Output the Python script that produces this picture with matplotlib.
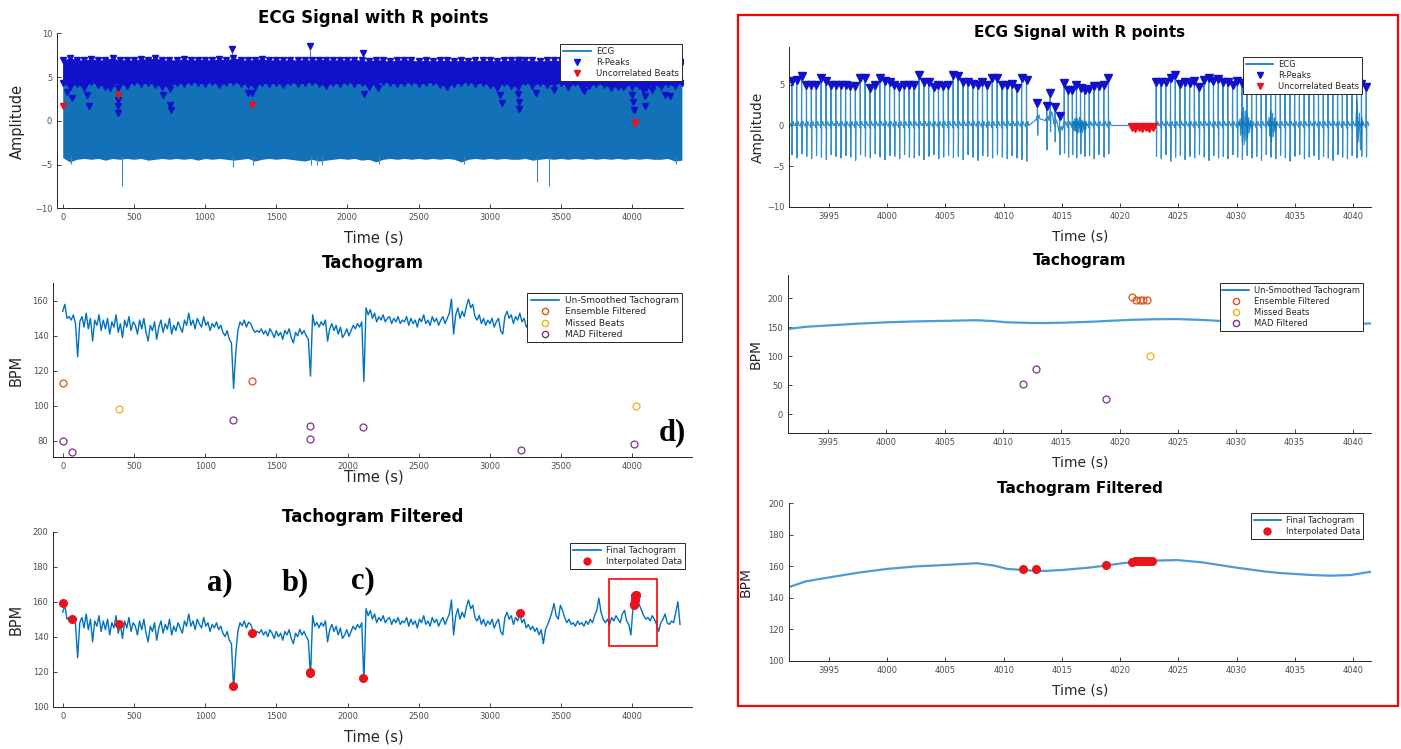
import numpy as np
import matplotlib
matplotlib.use('Agg')
import matplotlib.pyplot as plt
from matplotlib.lines import Line2D
from matplotlib.patches import Rectangle
from matplotlib.ticker import MultipleLocator

W, H = 1401, 749

# MATLAB default colour order
C_LINE = '#0072BD'
C_ORANGE = '#D95319'
C_YELLOW = '#EDB120'
C_PURPLE = '#7E2F8E'
C_PEAK = '#1111cc'
C_RED = '#e8141b'
C_AX = '#262626'
C_TICK = '#4d4d4d'

# ---------------- whole recording (0 - 4350 s) ----------------
# ECG envelope, sampled every 50 s
env_t = np.arange(0, 4351, 50)
ecg_lo = [-4.2, -4.7, -4.4, -4.3, -4.4, -4.3, -4.5, -4.3, -4.4, -4.3,
          -4.4, -4.3, -4.5, -4.4, -4.3, -4.4, -4.3, -4.4, -4.3, -4.5,
          -4.3, -4.4, -4.3, -4.4, -4.5, -4.4, -4.3, -4.6, -4.4, -4.3,
          -4.4, -4.3, -4.4, -4.5, -4.6, -4.4, -4.6, -4.5, -4.4, -4.3,
          -4.4, -4.3, -4.5, -4.4, -4.7, -4.4, -4.3, -4.4, -4.3, -4.4,
          -4.3, -4.4, -4.3, -4.4, -4.3, -4.4, -4.7, -4.4, -4.3, -4.4,
          -4.3, -4.4, -4.3, -4.4, -4.4, -4.3, -4.5, -4.4, -4.3, -4.4,
          -4.3, -4.4, -4.3, -4.4, -4.3, -4.4, -4.3, -4.4, -4.3, -4.4,
          -4.3, -4.4, -4.3, -4.4, -4.4, -4.3, -4.6, -4.5]
rpk_hi = [6.9, 7.2, 7.0, 6.9, 7.1, 6.9, 7.0, 7.2, 6.9, 7.0,
          6.9, 7.1, 7.0, 7.2, 6.9, 7.0, 6.9, 7.1, 6.9, 7.0,
          7.0, 6.9, 7.1, 6.9, 7.2, 7.0, 6.9, 7.0, 7.1, 6.9,
          7.0, 6.9, 7.0, 6.9, 7.0, 6.9, 7.0, 7.0, 6.9, 7.0,
          6.9, 7.0, 6.9, 6.8, 7.0, 6.9, 6.8, 6.9, 7.0, 6.9,
          6.8, 6.9, 6.8, 6.9, 6.9, 6.8, 6.9, 6.8, 6.9, 6.9,
          6.9, 6.8, 6.9, 6.9, 7.0, 6.9, 6.9, 6.8, 6.9, 6.9,
          6.9, 6.8, 6.9, 7.0, 6.9, 6.8, 6.9, 6.9, 6.8, 6.9,
          6.9, 6.8, 6.9, 6.9, 6.8, 6.9, 6.8, 6.7]
rpk_lo = [4.3, 3.9, 4.2, 3.8, 4.4, 4.1, 3.9, 4.3, 4.2, 4.0,
          4.4, 4.2, 4.3, 4.1, 3.9, 4.0, 4.3, 4.2, 4.4, 4.3,
          4.2, 4.4, 4.1, 4.3, 4.4, 4.2, 4.1, 3.9, 4.3, 4.2,
          4.3, 4.1, 4.4, 4.2, 4.3, 4.4, 4.2, 4.0, 4.3, 4.2,
          4.4, 4.2, 4.3, 3.9, 4.2, 4.4, 4.3, 4.2, 4.3, 4.4,
          4.2, 4.3, 4.4, 4.1, 3.9, 4.2, 4.3, 4.4, 4.2, 4.3,
          4.1, 3.8, 4.3, 4.0, 3.9, 4.4, 4.0, 4.3, 4.1, 4.2,
          4.3, 3.9, 4.3, 3.8, 4.0, 4.2, 4.1, 3.8, 3.9, 4.1,
          3.9, 4.0, 3.8, 4.1, 3.9, 4.2, 4.0, 4.3]

# single deep S waves and tall R waves sticking out of the envelope
spike_t = [60, 417, 1200, 1335, 1745, 1790, 1820, 2225, 2820, 3335, 3419, 4310]
spike_lo = [-4.9, -7.5, -5.3, -5.0, -5.1, -5.1, -5.1, -4.9, -4.9, -7.0, -7.5, -4.9]
tall_t = [1186, 1735, 2108]
tall_v = [7.9, 8.2, 7.5]

# R-peaks lying outside the dense band
out_t = [31, 63, 172, 182, 330, 392, 392, 392, 392, 706, 753, 753, 762,
         1186, 1302, 1333, 1735, 2108, 2117, 2212, 3074, 3084, 3200, 3206,
         3209, 3209, 3325, 3451, 3664, 3937, 4000, 4009, 4015, 4078, 4094,
         4094, 4141, 4235, 4266, 4345]
out_v = [3.3, 2.6, 2.95, 1.7, 3.8, 3.8, 2.4, 1.7, 0.9, 2.95, 3.6, 1.8, 1.2,
         8.2, 3.2, 3.2, 8.5, 7.8, 3.1, 3.7, 2.95, 2.0, 3.1, 7.0,
         2.2, 1.4, 3.2, 3.5, 3.4, 3.9, 2.95, 2.2, 1.2, 3.5, 2.8,
         1.7, 3.5, 2.95, 2.8, 6.6]

# uncorrelated beats
unc_t = [0, 392, 1327, 4021.0, 4021.3, 4021.6, 4021.9, 4022.2, 4022.5, 4022.8]
unc_v = [1.7, 3.0, 1.8, -0.2, -0.25, -0.2, -0.25, -0.2, -0.25, -0.2]

# tachogram, one value every 15 s
tacho_t = np.arange(0, 4350, 15)
tacho_bpm = [
    154, 158, 150, 151, 149, 152, 147, 128, 148, 151, 145, 153, 144, 150, 137, 149, 146, 152, 143, 149,
    144, 150, 141, 148, 145, 152, 142, 147, 139, 149, 145, 151, 143, 148, 146, 141, 149, 144, 150, 142,
    137, 146, 143, 148, 138, 145, 149, 142, 147, 144, 150, 141, 146, 143, 148, 145, 142, 149, 146, 153,
    146, 149, 144, 150, 147, 145, 151, 146, 148, 143, 147, 145, 148, 144, 146, 142, 140, 143, 138, 136,
    110, 130, 143, 148, 146, 149, 145, 148, 147, 144, 142, 143, 142, 144, 141, 143, 140, 144, 142, 139,
    143, 140, 142, 138, 143, 141, 144, 139, 136, 142, 140, 144, 141, 143, 140, 138, 117, 152, 146, 148,
    145, 148, 146, 149, 137, 144, 147, 143, 146, 141, 145, 139, 141, 144, 140, 143, 146, 144, 147, 145,
    148, 114, 156, 152, 155, 150, 153, 148, 151, 149, 152, 148, 150, 151, 147, 150, 148, 151, 147, 149,
    148, 151, 146, 150, 147, 149, 145, 150, 148, 152, 147, 149, 146, 151, 148, 150, 146, 149, 151, 147,
    150, 153, 161, 141, 152, 156, 150, 154, 151, 157, 161, 156, 158, 151, 149, 152, 147, 150, 146, 149,
    147, 150, 145, 148, 150, 143, 141, 151, 154, 150, 152, 147, 151, 149, 153, 148, 150, 145, 147, 144,
    146, 143, 145, 141, 144, 136, 144, 147, 150, 154, 159, 152, 150, 158, 155, 151, 148, 150, 147, 148,
    146, 149, 147, 148, 146, 149, 147, 150, 148, 152, 155, 162, 154, 150, 148, 150, 147, 151, 149, 152,
    150, 148, 153, 155, 149, 147, 141, 157, 161, 162, 158, 155, 152, 150, 151, 149, 152, 150, 147, 143,
    148, 150, 153, 148, 147, 149, 148, 154, 160, 147]

# flagged beats
ens_t = [5, 1331, 4021.05, 4021.4, 4021.7, 4022.0, 4022.3]
ens_bpm = [112.8, 114.1, 202, 197.5, 197, 197, 197]
miss_t = [392, 4022.6]
miss_bpm = [98.5, 100]
mad_t = [5, 68, 1195, 1734, 1734, 2112, 3220, 4011.7, 4012.8, 4018.8]
mad_bpm = [80, 73.7, 91.8, 88.8, 81.1, 88, 75, 52, 78, 26.4]
interp_t = [3, 63, 392, 1197, 1331, 1734, 1740, 2112, 3213, 4011.7, 4012.8,
            4018.8, 4021.0, 4021.25, 4021.5, 4021.75, 4022.0, 4022.25, 4022.5, 4022.7]
interp_bpm = [159.5, 150, 147, 112, 142, 119, 120, 116.4, 153.4, 158.6, 158.1,
              161.1, 163.0, 163.2, 163.3, 163.4, 163.5, 163.5, 163.6, 163.6]

# ---------------- detail window (3991.5 - 4041.5 s) ----------------
# regular beats before the artefact
a_t = [3991.80, 3992.22, 3992.64, 3993.06, 3993.48, 3993.90, 3994.32, 3994.74, 3995.16, 3995.58,
       3996.00, 3996.42, 3996.84, 3997.26, 3997.68, 3998.10, 3998.52, 3998.94, 3999.36, 3999.78,
       4000.20, 4000.62, 4001.04, 4001.46, 4001.88, 4002.30, 4002.72, 4003.14, 4003.56, 4003.98,
       4004.40, 4004.82, 4005.24, 4005.66, 4006.08, 4006.50, 4006.92, 4007.34, 4007.76, 4008.18,
       4008.60, 4009.02, 4009.44, 4009.86, 4010.28, 4010.70, 4011.12, 4011.54, 4011.96]
a_r = [5.5, 5.6, 6.1, 5.0, 5.0, 5.0, 5.9, 5.5, 5.0, 5.0,
       5.0, 5.0, 4.9, 4.9, 5.8, 5.9, 4.6, 5.0, 5.8, 5.5,
       5.3, 5.0, 4.7, 5.0, 5.0, 5.0, 6.2, 5.3, 5.3, 4.7,
       5.0, 4.9, 5.0, 6.2, 6.1, 5.4, 5.3, 5.1, 5.0, 5.3,
       5.0, 5.9, 5.8, 5.0, 5.0, 5.1, 4.6, 5.9, 5.6]
a_s = [-3.6, -4.0, -3.5, -3.8, -4.1, -3.7, -3.9, -4.2, -3.6, -3.8,
       -4.0, -3.7, -3.9, -4.3, -3.6, -3.8, -4.0, -3.5, -3.9, -4.2,
       -3.7, -3.8, -4.1, -3.6, -3.9, -4.0, -3.7, -4.2, -3.8, -3.6,
       -4.1, -3.9, -3.7, -4.0, -3.8, -4.2, -3.6, -3.9, -4.3, -3.7,
       -3.8, -4.0, -3.6, -3.9, -4.1, -3.7, -4.0, -4.2, -4.4]
# irregular beats riding on a wandering baseline
i_t = [4012.9, 4013.7, 4014.0, 4014.4, 4014.8]
i_r = [2.8, 2.4, 4.0, 2.3, 1.2]
i_s = [-1.2, -3.0, -0.8, -2.0, -3.6]
i_base = [0.8, 0.6, 1.2, 0.2, -0.6]
# beats up to the dropout
b_t = [4015.2, 4015.55, 4015.9, 4016.25, 4016.6, 4016.95, 4017.35, 4017.75, 4018.15, 4018.6, 4019.0]
b_r = [5.2, 4.4, 4.4, 5.0, 4.6, 4.4, 4.5, 4.9, 4.8, 5.0, 5.9]
b_s = [-3.4, -3.9, -3.6, -4.0, -3.5, -3.8, -3.7, -4.1, -3.6, -3.9, -3.5]
# beats after the dropout
c_t = [4023.10, 4023.51, 4023.92, 4024.33, 4024.74, 4025.15, 4025.56, 4025.97, 4026.38, 4026.79,
       4027.20, 4027.61, 4028.02, 4028.43, 4028.84, 4029.25, 4029.66, 4030.07, 4030.48, 4030.89,
       4031.30, 4031.71, 4032.12, 4032.53, 4032.94, 4033.35, 4033.76, 4034.17, 4034.58, 4034.99,
       4035.40, 4035.81, 4036.22, 4036.63, 4037.04, 4037.45, 4037.86, 4038.27, 4038.68, 4039.09,
       4039.50, 4039.91, 4040.32, 4040.73, 4041.14]
c_r = [5.3, 5.3, 5.4, 5.9, 6.2, 5.1, 5.4, 5.2, 5.5, 4.7,
       5.6, 5.8, 5.5, 5.7, 5.3, 5.4, 5.0, 5.5, 5.2, 5.6,
       5.0, 5.3, 5.5, 5.1, 5.4, 5.0, 5.6, 5.2, 5.3, 5.5,
       5.0, 5.4, 5.2, 5.6, 5.1, 5.3, 5.5, 5.0, 5.4, 5.2,
       5.3, 5.0, 4.9, 5.1, 4.7]
c_s = [-3.8, -4.1, -3.6, -4.4, -3.9, -3.7, -4.2, -3.8, -4.0, -3.6,
       -3.9, -4.3, -3.7, -4.0, -3.8, -4.1, -3.6, -3.9, -4.2, -3.7,
       -4.0, -3.8, -4.3, -3.6, -3.9, -4.1, -3.7, -4.0, -4.4, -3.8,
       -3.6, -4.1, -3.9, -3.7, -4.2, -3.8, -4.0, -4.3, -3.6, -3.9,
       -4.1, -3.7, -4.0, -3.8, -3.9]

# muscle-noise bursts
noise = [
    ([4015.95, 4016.0, 4016.05, 4016.1, 4016.15, 4016.2, 4016.3, 4016.35, 4016.45, 4016.5,
      4016.6, 4016.65, 4016.75, 4016.8, 4016.9, 4016.95, 4017.05, 4017.1, 4017.2],
     [0, 0.5, -0.6, 0.8, -0.7, 0.9, -1.0, 0.8, -0.9, 1.0, -0.8, 0.7, -0.9, 0.6, -0.7, 0.5, -0.5, 0.3, 0]),
    ([4030.2, 4030.3, 4030.35, 4030.45, 4030.5, 4030.6, 4030.65, 4030.75, 4030.8, 4030.9,
      4030.95, 4031.05, 4031.1, 4031.2, 4031.3, 4031.4],
     [0, 0.8, -1.2, 1.6, -2.0, 2.2, -2.4, 1.8, -1.9, 1.4, -1.5, 1.0, -0.9, 0.6, -0.4, 0]),
    ([4032.7, 4032.8, 4032.85, 4032.95, 4033.0, 4033.1, 4033.15, 4033.25, 4033.3, 4033.4, 4033.5],
     [0, 1.0, -1.3, 1.8, -2.0, 1.5, -1.4, 0.9, -0.8, 0.4, 0]),
    ([4040.25, 4040.35, 4040.45, 4040.55, 4040.65, 4040.75, 4040.85],
     [0, 3.2, -2.0, 1.5, -3.0, 1.0, 0]),
]

# smoothed heart rate in the window
win_t = [3991.5, 3993, 3995, 3997.5, 4000, 4002.5, 4005, 4007.7, 4009.2, 4010.3, 4012.4, 4013.5,
         4015, 4017.6, 4019.7, 4021, 4022.7, 4024.9, 4027, 4030, 4032.5, 4033.7, 4035, 4036.5,
         4038, 4039.8, 4041.6]
win_bpm = [146.7, 150.5, 153, 156, 158.4, 160, 160.9, 162, 160.5, 158.4, 157.3, 157.1,
           157.7, 159.4, 161.5, 162.7, 163.6, 164, 162.6, 159.2, 156.7, 155.8, 155.2, 154.5,
           154.1, 154.5, 156.7]


fig = plt.figure(figsize=(W / 100, H / 100), dpi=100)


def axes_px(l, t, r, b):
    return fig.add_axes([l / W, 1 - b / H, (r - l) / W, (b - t) / H])


def text_px(x, y, s, **kw):
    fig.text(x / W, 1 - y / H, s, ha='center', va='center', **kw)


def style(ax, xlim, ylim, xstep, ystep):
    ax.set_xlim(*xlim)
    ax.set_ylim(*ylim)
    ax.xaxis.set_major_locator(MultipleLocator(xstep))
    ax.yaxis.set_major_locator(MultipleLocator(ystep))
    ax.xaxis.get_major_formatter().set_useOffset(False)
    for s in ('top', 'right'):
        ax.spines[s].set_visible(False)
    for s in ('left', 'bottom'):
        ax.spines[s].set_color(C_AX)
        ax.spines[s].set_linewidth(0.7)
    ax.tick_params(direction='in', length=3, width=0.6, color=C_AX,
                   labelsize=6, labelcolor=C_TICK, pad=3.5)


def legend_px(ax, handles, right, top, size=6.2):
    leg = ax.legend(handles=handles, loc='upper right',
                    bbox_to_anchor=(right / W, 1 - top / H),
                    bbox_transform=fig.transFigure, fontsize=size,
                    fancybox=False, framealpha=1, edgecolor=C_AX,
                    borderpad=0.35, labelspacing=0.25, handlelength=3.2,
                    handletextpad=0.6, borderaxespad=0)
    leg.get_frame().set_linewidth(0.7)
    for t in leg.get_texts():
        t.set_color(C_AX)
    leg.set_zorder(10)


def ecg_trace(times, r, s, base=None):
    """Stack a simple P-QRS-T shape on every beat."""
    xs, ys = [], []
    if base is None:
        base = [0.0] * len(times)
    for t, rv, sv, b in zip(times, r, s, base):
        xs += [t - 0.09, t - 0.05, t - 0.015, t, t + 0.025, t + 0.05, t + 0.13, t + 0.22]
        ys += [b, b + 0.3, b - 0.3, rv, sv, b, b + 0.5, b]
    return xs, ys


h_ecg = Line2D([], [], color=C_LINE, lw=1.2, label='ECG')
h_rpk = Line2D([], [], ls='none', marker='v', color=C_PEAK, ms=4.5, label='R-Peaks')
h_unc = Line2D([], [], ls='none', marker='v', color=C_RED, ms=4.5, label='Uncorrelated Beats')
h_raw = Line2D([], [], color=C_LINE, lw=1.2, label='Un-Smoothed Tachogram')
h_ens = Line2D([], [], ls='none', marker='o', mfc='none', mec=C_ORANGE, ms=4.5, label='Ensemble Filtered')
h_mis = Line2D([], [], ls='none', marker='o', mfc='none', mec=C_YELLOW, ms=4.5, label='Missed Beats')
h_mad = Line2D([], [], ls='none', marker='o', mfc='none', mec=C_PURPLE, ms=4.5, label='MAD Filtered')
h_fin = Line2D([], [], color=C_LINE, lw=1.2, label='Final Tachogram')
h_int = Line2D([], [], ls='none', marker='o', color=C_RED, ms=5, label='Interpolated Data')

# ---------------- left: whole recording ----------------
ax = axes_px(57, 33.3, 683, 208.3)
ax.fill_between(env_t, ecg_lo, rpk_hi, color='#1371b8', lw=0, zorder=1)
ax.vlines(spike_t, spike_lo, -4.0, color='#3a86c4', lw=0.8, zorder=1)
ax.vlines(tall_t, 6.5, tall_v, color='#3a86c4', lw=0.8, zorder=1)
ax.fill_between(env_t, rpk_lo, rpk_hi, color=C_PEAK, lw=0, zorder=2)
ax.plot(env_t, rpk_hi, 'v', color=C_PEAK, ms=4.5, zorder=2)
ax.plot(env_t, rpk_lo, 'v', color=C_PEAK, ms=4.5, zorder=2)
ax.plot(out_t, out_v, 'v', color=C_PEAK, ms=5, zorder=3)
ax.plot(unc_t, unc_v, 'v', color=C_RED, ms=5, zorder=4)
style(ax, (-40, 4358), (-10, 10), 500, 5)
legend_px(ax, [h_ecg, h_rpk, h_unc], 682, 44)

ax = axes_px(53.3, 283.3, 692, 456.7)
ax.plot(tacho_t, tacho_bpm, color=C_LINE, lw=1.0)
ax.plot(ens_t, ens_bpm, 'o', mfc='none', mec=C_ORANGE, ms=5, mew=0.9)
ax.plot(miss_t, miss_bpm, 'o', mfc='none', mec=C_YELLOW, ms=5, mew=0.9)
ax.plot(mad_t, mad_bpm, 'o', mfc='none', mec=C_PURPLE, ms=5, mew=0.9)
style(ax, (-66, 4419), (71, 170), 500, 20)
legend_px(ax, [h_raw, h_ens, h_mis, h_mad], 682, 293, size=6.5)

ax = axes_px(53.3, 531.7, 692, 706.7)
ax.plot(tacho_t, tacho_bpm, color=C_LINE, lw=1.0)
ax.plot(interp_t, interp_bpm, 'o', color=C_RED, ms=5.5)
ax.add_patch(Rectangle((3836, 134.7), 337, 38.3, fill=False, ec='red', lw=1.2, zorder=5))
style(ax, (-66, 4419), (100, 200), 500, 20)
legend_px(ax, [h_fin, h_int], 685, 543)

text_px(373, 18, 'ECG Signal with R points', fontsize=12, fontweight='bold')
text_px(373, 263, 'Tachogram', fontsize=12, fontweight='bold')
text_px(373, 517, 'Tachogram Filtered', fontsize=12, fontweight='bold')
for y in (238, 477, 737):
    text_px(374, y, 'Time (s)', fontsize=10.5, color=C_AX)
text_px(17, 121, 'Amplitude', fontsize=10.5, color=C_AX, rotation=90)
text_px(16, 370, 'BPM', fontsize=10.5, color=C_AX, rotation=90)
text_px(16, 619, 'BPM', fontsize=10.5, color=C_AX, rotation=90)

# ---------------- right: detail window ----------------
xs, ys = [], []
for seg in (ecg_trace(a_t, a_r, a_s), ecg_trace(i_t, i_r, i_s, i_base),
            ecg_trace(b_t, b_r, b_s), ecg_trace(c_t, c_r, c_s)):
    xs += seg[0]
    ys += seg[1]

ax = axes_px(789, 46.7, 1371, 206.7)
ax.plot(xs, ys, color=C_LINE, lw=0.85, alpha=0.8)
for nt, nv in noise:
    ax.plot(nt, nv, color=C_LINE, lw=0.85, alpha=0.8)
ax.plot(a_t + i_t + b_t + c_t, a_r + i_r + b_r + c_r, 'v', color=C_PEAK, ms=5.5)
ax.plot(unc_t, unc_v, 'v', color=C_RED, ms=5.5)
style(ax, (3991.56, 4041.55), (-10, 9.7), 5, 5)
legend_px(ax, [h_ecg, h_rpk, h_unc], 1362, 57, size=6)

ax = axes_px(788, 275, 1371, 433.3)
ax.plot(win_t, win_bpm, color='#4c9bd2', lw=1.6)
ax.plot(ens_t, ens_bpm, 'o', mfc='none', mec=C_ORANGE, ms=5, mew=0.9)
ax.plot(miss_t, miss_bpm, 'o', mfc='none', mec=C_YELLOW, ms=5, mew=0.9)
ax.plot(mad_t, mad_bpm, 'o', mfc='none', mec=C_PURPLE, ms=5, mew=0.9)
style(ax, (3991.56, 4041.55), (-33, 240), 5, 50)
legend_px(ax, [h_raw, h_ens, h_mis, h_mad], 1363, 283, size=6)

ax = axes_px(789, 503.3, 1371, 661)
ax.plot(win_t, win_bpm, color='#4c9bd2', lw=1.6)
ax.plot(interp_t, interp_bpm, 'o', color=C_RED, ms=5.5)
style(ax, (3991.56, 4041.55), (100, 200), 5, 20)
legend_px(ax, [h_fin, h_int], 1363, 513, size=6)

text_px(1080, 32, 'ECG Signal with R points', fontsize=11, fontweight='bold')
text_px(1080, 261, 'Tachogram', fontsize=11, fontweight='bold')
text_px(1080, 488, 'Tachogram Filtered', fontsize=11, fontweight='bold')
for y in (236, 463, 690):
    text_px(1080, y, 'Time (s)', fontsize=10, color=C_AX)
text_px(758, 127, 'Amplitude', fontsize=10, color=C_AX, rotation=90)
text_px(756, 354, 'BPM', fontsize=10, color=C_AX, rotation=90)
text_px(746, 582, 'BPM', fontsize=10, color=C_AX, rotation=90)

# frame around the detail window
fig.add_artist(Rectangle((738 / W, 1 - 706 / H), (1398 - 738) / W, (706 - 15) / H,
                         transform=fig.transFigure, fill=False, ec='red', lw=1.6))

# panel markers
for x, y, s in ((220, 583, 'a)'), (295, 583, 'b)'), (363, 581, 'c)'), (672, 433, 'd)')):
    text_px(x, y, s, fontsize=22, fontweight='bold', family='Liberation Serif', color='black')

fig.savefig('out.png', dpi=100)
